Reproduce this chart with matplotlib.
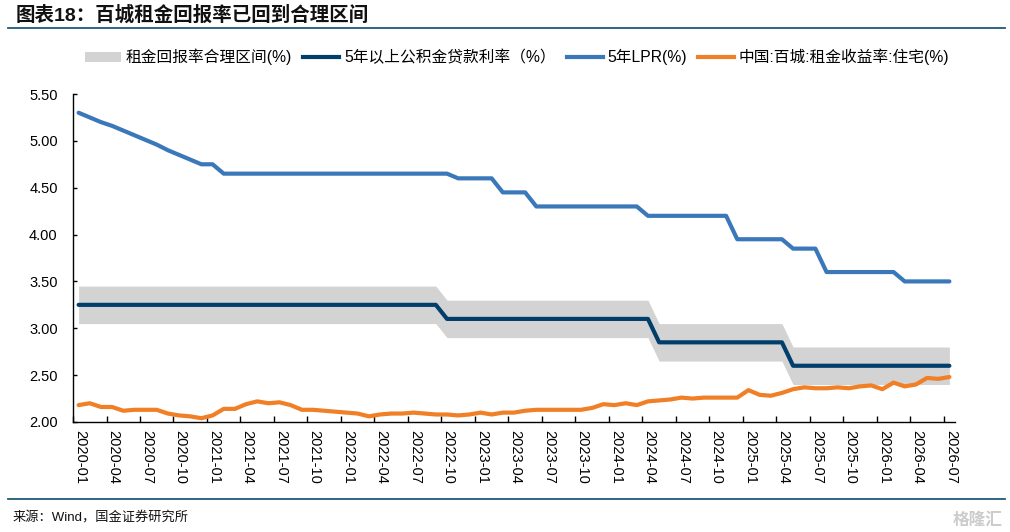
import matplotlib
matplotlib.use("Agg")
import matplotlib.pyplot as plt
from matplotlib.lines import Line2D
from matplotlib.patches import Patch

plt.rcParams["font.family"] = ["Liberation Sans", "Noto Sans CJK SC", "DejaVu Sans"]

# monthly categories 2020-01 .. 2026-07 (79 months), labelled every quarter
tick_labels = [
    "2020-01", "2020-04", "2020-07", "2020-10",
    "2021-01", "2021-04", "2021-07", "2021-10",
    "2022-01", "2022-04", "2022-07", "2022-10",
    "2023-01", "2023-04", "2023-07", "2023-10",
    "2024-01", "2024-04", "2024-07", "2024-10",
    "2025-01", "2025-04", "2025-07", "2025-10",
    "2026-01", "2026-04", "2026-07",
]
n_months = 79

# 5-year LPR (%)
lpr = ([5.30, 5.25, 5.20, 5.16, 5.11, 5.06, 5.01, 4.96, 4.90, 4.85, 4.80, 4.75, 4.75]
       + [4.65] * 21 + [4.60] * 4 + [4.45] * 3 + [4.30] * 10 + [4.20] * 8
       + [3.95] * 5 + [3.85] * 3 + [3.60] * 7 + [3.50] * 5)

# 5y+ housing provident fund loan rate (%)
hpf_rate = [3.25] * 33 + [3.10] * 19 + [2.85] * 12 + [2.60] * 15

# reasonable rental yield band (%)
band_low = [3.05] * 33 + [2.90] * 19 + [2.65] * 12 + [2.40] * 15
band_high = [3.45] * 33 + [3.30] * 19 + [3.05] * 12 + [2.80] * 15

# 100-city residential rental yield (%)
rent_yield = [
    2.18, 2.20, 2.16, 2.16, 2.12, 2.13, 2.13, 2.13, 2.09, 2.07,
    2.06, 2.04, 2.07, 2.14, 2.14, 2.19, 2.22, 2.20, 2.21, 2.18,
    2.13, 2.13, 2.12, 2.11, 2.10, 2.09, 2.06, 2.08, 2.09, 2.09,
    2.10, 2.09, 2.08, 2.08, 2.07, 2.08, 2.10, 2.08, 2.10, 2.10,
    2.12, 2.13, 2.13, 2.13, 2.13, 2.13, 2.15, 2.19, 2.18, 2.20,
    2.18, 2.22, 2.23, 2.24, 2.26, 2.25, 2.26, 2.26, 2.26, 2.26,
    2.34, 2.29, 2.28, 2.31, 2.35, 2.37, 2.36, 2.36, 2.37, 2.36,
    2.38, 2.39, 2.35, 2.42, 2.38, 2.40, 2.47, 2.46, 2.48,
]

C_BAND = "#d3d3d3"
C_HPF = "#003e6b"
C_LPR = "#3a78ba"
C_RENT = "#f07f25"
C_RULE = "#1d5a78"

fig = plt.figure(figsize=(10.10, 5.32), dpi=100)
ax = fig.add_axes([0.0723, 0.2068, 0.8732, 0.6165])

# category centres sit between quarterly ticks
x = [i + 0.5 for i in range(n_months)]

ax.fill_between(x, band_low, band_high, color=C_BAND, lw=0, zorder=1)
ax.plot(x, rent_yield, color=C_RENT, lw=3.0, zorder=2, solid_capstyle="round")
ax.plot(x, hpf_rate, color=C_HPF, lw=3.0, zorder=3, solid_capstyle="round")
ax.plot(x, lpr, color=C_LPR, lw=3.0, zorder=3, solid_capstyle="round")

ax.set_xlim(0, n_months)
ax.set_ylim(2.0, 5.5)
ax.set_yticks([2.0, 2.5, 3.0, 3.5, 4.0, 4.5, 5.0, 5.5])
ax.set_yticklabels([f"{v:.2f}" for v in ax.get_yticks()], fontsize=10.5)
ax.set_xticks(range(0, n_months, 3))
ax.set_xticklabels(tick_labels, rotation=-90, fontsize=10.5, ha="left", va="top",
                   rotation_mode="default")

for side in ("top", "right"):
    ax.spines[side].set_visible(False)
for side in ("left", "bottom"):
    ax.spines[side].set_color("black")
    ax.spines[side].set_linewidth(1.0)
ax.tick_params(axis="y", direction="in", length=3, width=1, pad=11)
ax.tick_params(axis="x", direction="in", length=4, width=1, pad=6)

handles = [
    Patch(facecolor=C_BAND, edgecolor="none"),
    Line2D([], [], color=C_HPF, lw=3),
    Line2D([], [], color=C_LPR, lw=3),
    Line2D([], [], color=C_RENT, lw=3),
]
labels = ["租金回报率合理区间(%)", "5年以上公积金贷款利率（%）", "5年LPR(%)",
          "中国:百城:租金收益率:住宅(%)"]
fig.legend(handles, labels, loc="center", bbox_to_anchor=(0.512, 0.893), ncol=4,
           frameon=False, fontsize=11.3, handlelength=2.3, handleheight=0.6,
           handletextpad=0.3, columnspacing=0.7)

# header and footer
fig.text(0.015, 0.972, "图表18：百城租金回报率已回到合理区间", fontsize=14,
         fontweight="bold", color="#111111", ha="left", va="center")
fig.add_artist(Line2D([0.008, 0.995], [0.947, 0.947], color=C_RULE, lw=1.3))
fig.add_artist(Line2D([0.008, 0.995], [0.062, 0.062], color=C_RULE, lw=1.3))
fig.text(0.012, 0.026, "来源：Wind，国金证券研究所", fontsize=9.5, color="#111111",
         ha="left", va="center")
fig.text(0.993, 0.024, "格隆汇", fontsize=12, color="#cccccc", fontweight="bold",
         ha="right", va="center")

fig.savefig("out.png", dpi=100)
